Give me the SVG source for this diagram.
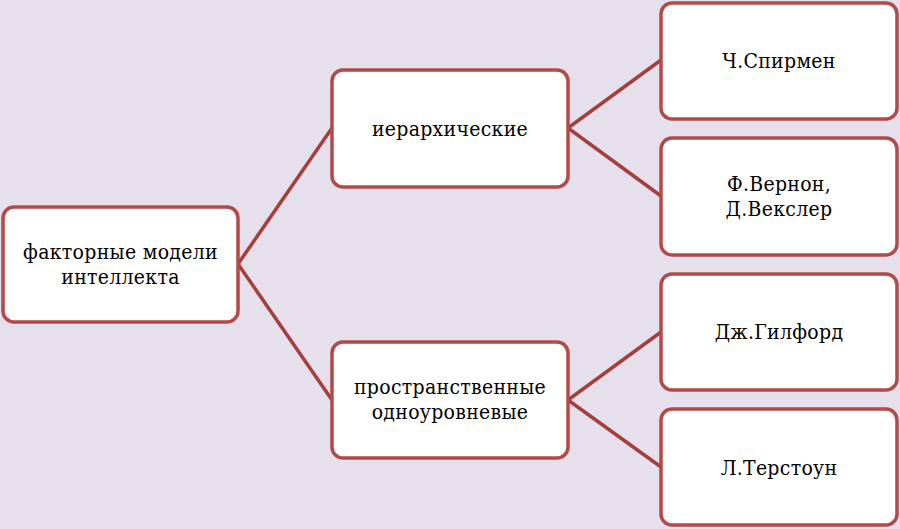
<svg xmlns="http://www.w3.org/2000/svg" width="900" height="529" viewBox="0 0 900 529">
<style>
.box{fill:#ffffff;stroke:#b24a48;stroke-width:3.5}
.lbl{font-family:"DejaVu Serif Condensed","DejaVu Serif",serif;font-stretch:condensed;font-size:21px;letter-spacing:0.3px;fill:#000;text-anchor:middle}
.con{stroke:#a53f3e;stroke-width:3.5;fill:none}
</style>
<rect x="0" y="0" width="900" height="529" fill="#e6e0ec"/>
<g id="connectors">
<line class="con" x1="238" y1="264" x2="332" y2="128"/>
<line class="con" x1="238" y1="264" x2="332" y2="400"/>
<line class="con" x1="568" y1="128" x2="661" y2="60"/>
<line class="con" x1="568" y1="128" x2="661" y2="196"/>
<line class="con" x1="568" y1="400" x2="661" y2="332"/>
<line class="con" x1="568" y1="400" x2="661" y2="467"/>
</g>
<g id="root">
<rect class="box" x="3" y="207" width="235" height="115" rx="11"/>
<text class="lbl" x="120.5" y="259">факторные модели</text>
<text class="lbl" x="120.5" y="284">интеллекта</text>
</g>
<g id="hier">
<rect class="box" x="332" y="70" width="236" height="117" rx="11"/>
<text class="lbl" x="450" y="136">иерархические</text>
</g>
<g id="spatial">
<rect class="box" x="332" y="342" width="236" height="116" rx="11"/>
<text class="lbl" x="450" y="394">пространственные</text>
<text class="lbl" x="450" y="419">одноуровневые</text>
</g>
<g id="spearman">
<rect class="box" x="661" y="3" width="236" height="116" rx="11"/>
<text class="lbl" x="779" y="68">Ч.Спирмен</text>
</g>
<g id="vernon">
<rect class="box" x="661" y="138" width="236" height="117" rx="11"/>
<text class="lbl" x="779" y="191">Ф.Вернон,</text>
<text class="lbl" x="779" y="216">Д.Векслер</text>
</g>
<g id="guilford">
<rect class="box" x="661" y="274" width="236" height="116" rx="11"/>
<text class="lbl" x="779" y="339">Дж.Гилфорд</text>
</g>
<g id="thurstone">
<rect class="box" x="661" y="409" width="236" height="116" rx="11"/>
<text class="lbl" x="779" y="475">Л.Терстоун</text>
</g>
</svg>
